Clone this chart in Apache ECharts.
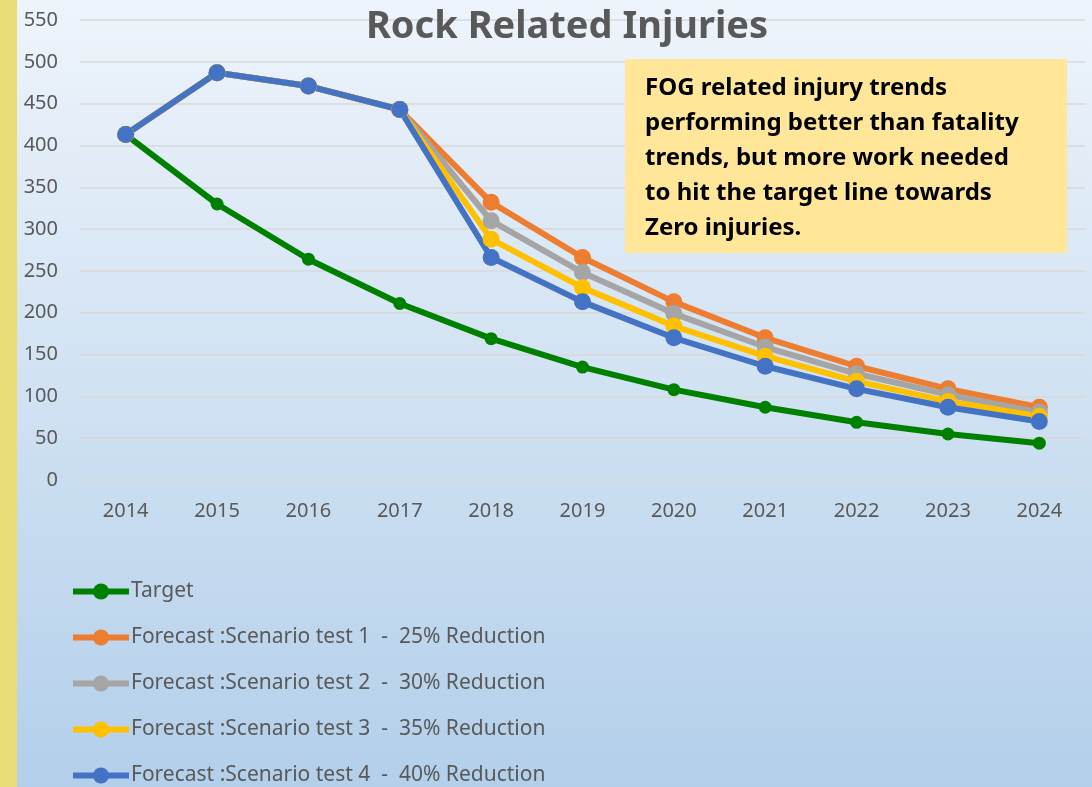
<!DOCTYPE html>
<html>
<head>
<meta charset="utf-8">
<script src="https://cdn.jsdelivr.net/npm/echarts@6/dist/echarts.min.js"></script>
<style>
  html, body { margin: 0; padding: 0; }
  #main { width: 1092px; height: 787px; }
</style>
</head>
<body>
<div id="main"></div>
<script>
var years = ['2014', '2015', '2016', '2017', '2018', '2019', '2020', '2021', '2022', '2023', '2024'];
var target = [413, 330, 264, 211, 169, 135, 108, 87, 69, 55, 44];
var scenario1 = [413, 487, 471, 443, 332, 266, 213, 170, 136, 109, 87];
var scenario2 = [413, 487, 471, 443, 310, 248, 199, 159, 127, 102, 81];
var scenario3 = [413, 487, 471, 443, 288, 230, 184, 148, 118, 94, 76];
var scenario4 = [413, 487, 471, 443, 266, 213, 170, 136, 109, 87, 70];
var seriesNames = [
  'Target',
  'Forecast :Scenario test 1  -  25% Reduction',
  'Forecast :Scenario test 2  -  30% Reduction',
  'Forecast :Scenario test 3  -  35% Reduction',
  'Forecast :Scenario test 4  -  40% Reduction'
];
var noteLines = [
  'FOG related injury trends',
  'performing better than fatality',
  'trends, but more work needed',
  'to hit the target line towards',
  'Zero injuries.'
];

var font = '"Noto Sans", sans-serif';
var chart = echarts.init(document.getElementById('main'));

function lineSeries(name, data, color, size) {
  return {
    name: name,
    type: 'line',
    data: data,
    symbol: 'circle',
    symbolSize: size,
    color: color,
    lineStyle: { width: 6, color: color },
    itemStyle: { color: color },
    emphasis: { disabled: true },
    animation: false
  };
}

var option = {
  backgroundColor: new echarts.graphic.LinearGradient(0, 0, 0, 1, [
    { offset: 0, color: '#EEF4FB' },
    { offset: 1, color: '#B3CFEA' }
  ]),
  title: {
    text: 'Rock Related Injuries',
    left: 562,
    textAlign: 'center',
    top: 3,
    textStyle: { fontFamily: font, fontSize: 38, fontWeight: 'bold', color: '#595959' }
  },
  grid: { left: 80, right: 7, top: 20, bottom: 307 },
  legend: {
    orient: 'vertical',
    left: 70,
    top: 581,
    height: 250,
    padding: 0,
    itemWidth: 56,
    itemHeight: 20,
    itemGap: 25,
    data: seriesNames,
    lineStyle: { width: 6 },
    textStyle: { fontFamily: font, fontSize: 21, color: '#595959', lineHeight: 20, padding: [0, 0, 0, -3] }
  },
  xAxis: {
    type: 'category',
    data: years,
    boundaryGap: true,
    axisLine: { show: false },
    axisTick: { show: false },
    axisLabel: { fontFamily: font, fontSize: 20, color: '#595959', margin: 21 }
  },
  yAxis: {
    type: 'value',
    min: 0,
    max: 550,
    interval: 50,
    axisLine: { show: false },
    axisTick: { show: false },
    axisLabel: { fontFamily: font, fontSize: 20, color: '#595959', margin: 22 },
    splitLine: { lineStyle: { color: '#D9D9D9', width: 1.5 } }
  },
  series: [
    lineSeries(seriesNames[0], target, '#008000', 13),
    lineSeries(seriesNames[1], scenario1, '#ED7D31', 17),
    lineSeries(seriesNames[2], scenario2, '#A5A5A5', 17),
    lineSeries(seriesNames[3], scenario3, '#FFC000', 17),
    lineSeries(seriesNames[4], scenario4, '#4472C4', 17)
  ],
  graphic: [
    {
      type: 'rect',
      left: 0, top: 0,
      shape: { width: 17, height: 787 },
      style: { fill: '#E9DD7A' }
    },
    {
      type: 'rect',
      left: 625, top: 59,
      z: 100,
      shape: { width: 442, height: 194 },
      style: { fill: '#FFE699' }
    },
    {
      type: 'text',
      left: 645, top: 71,
      z: 101,
      style: {
        text: noteLines.join('\n'),
        font: 'bold 24px ' + font,
        fill: '#000000',
        lineHeight: 35
      }
    }
  ]
};

chart.setOption(option);
</script>
</body>
</html>
